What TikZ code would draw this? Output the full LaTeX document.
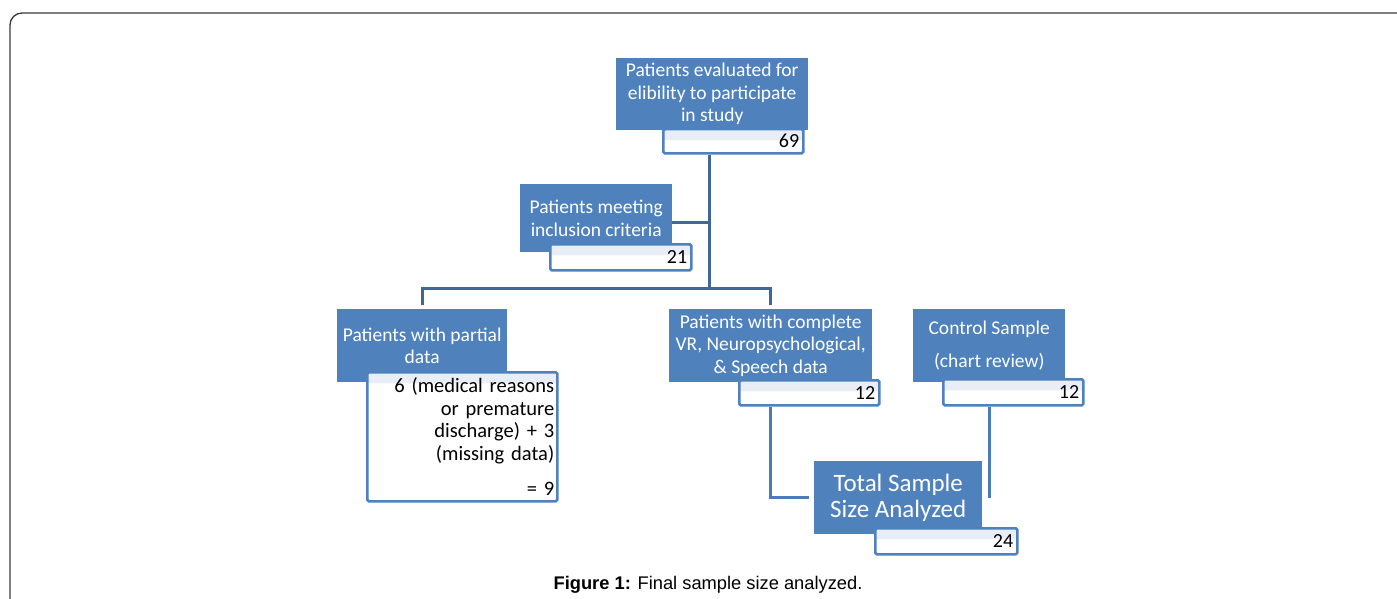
\documentclass[tikz,border=0pt]{standalone}
\usepackage{fontspec}
\setmainfont{Carlito}
\newfontfamily\capfont{Liberation Sans}
\definecolor{boxblue}{HTML}{4F81BD}
\definecolor{linedark}{HTML}{3F6896}
\definecolor{linelight}{HTML}{4A7DB8}
\definecolor{bandblue}{HTML}{E9EEF6}
\definecolor{framegray}{HTML}{3A3A3A}
\tikzset{
  bluebox/.style={fill=boxblue, text=white, align=center, inner sep=0pt,
    anchor=north west, font=\fontsize{19.5}{22.5}\selectfont},
  numbox/.style={draw=boxblue, line width=2.5pt, rounded corners=1.5pt, fill=white,
    anchor=north west, inner xsep=4pt, inner ysep=0pt, align=right, text=black,
    font=\fontsize{20}{23}\selectfont,
    path picture={\fill[bandblue] (path picture bounding box.north west) rectangle ([yshift=-11pt]path picture bounding box.north east);}},
  conndark/.style={draw=linedark, line width=3pt},
  connlight/.style={draw=linelight, line width=3pt}
}
\begin{document}
\begin{tikzpicture}[x=1pt,y=-1pt]
\useasboundingbox (0,0) rectangle (1397,599);
\draw[framegray, line width=1.3pt, rounded corners=12pt] (10,620) -- (10,13) -- (1420,13);

% blue boxes
\node[bluebox, minimum width=192pt, minimum height=72pt] (b1) at (616,58)
  {Patients evaluated for\\elibility to participate\\in study};
\node[bluebox, minimum width=152pt, minimum height=68pt] (b2) at (520,184)
  {Patients meeting\\inclusion criteria};
\node[bluebox, minimum width=170pt, minimum height=73pt] (b3) at (337,309)
  {Patients with partial\\data};
\node[bluebox, minimum width=203pt, minimum height=73pt] (b4) at (669,309)
  {Patients with complete\\VR, Neuropsychological,\\\& Speech data};
\node[bluebox, minimum width=152pt, minimum height=73pt] (b5) at (913,309)
  {Control Sample\\[10pt](chart review)};
\node[bluebox, minimum width=168pt, minimum height=73pt, font=\fontsize{25}{26}\selectfont] (b6) at (814,461)
  {Total Sample\\Size Analyzed};

% number boxes
\node[numbox, text width=132pt, minimum height=24pt] (n1) at (662,128) {69};
\node[numbox, text width=133pt, minimum height=26pt] (n2) at (549,243) {21};
\node[numbox, text width=184pt, minimum height=129pt, inner xsep=3pt, font=\fontsize{20.5}{22.5}\selectfont] (n3) at (366,371)
  {6 (medical reasons\\or premature\\discharge) + 3\\(missing data)\\[13pt]= 9};
\node[numbox, text width=132pt, minimum height=25pt] (n4) at (738,379) {12};
\node[numbox, text width=132pt, minimum height=26pt] (n5) at (942,378) {12};
\node[numbox, text width=134pt, minimum height=26pt] (n6) at (874,527) {24};

% connectors
\coordinate (hub) at (709,288);
\draw[conndark] (hub |- n1.south) -- (hub);
\draw[conndark] ([yshift=-4pt]b2.east) -- ([yshift=-4pt]b2.east -| hub);
\draw[conndark, shorten <=4pt, shorten >=4pt] (b3.north) |- (hub) -| (b4.north);
\draw[connlight, shorten >=5pt] (b4.north |- n4.south) |- (b6.west);
\draw[connlight] (b5.north |- n5.south) -- (b5.north |- b6.east);

% caption
\node[font=\capfont\fontsize{18.3}{20}\selectfont, anchor=base, text=black] (cap) at (708,589)
  {\textbf{Figure 1:} Final sample size analyzed.};
\end{tikzpicture}
\end{document}
